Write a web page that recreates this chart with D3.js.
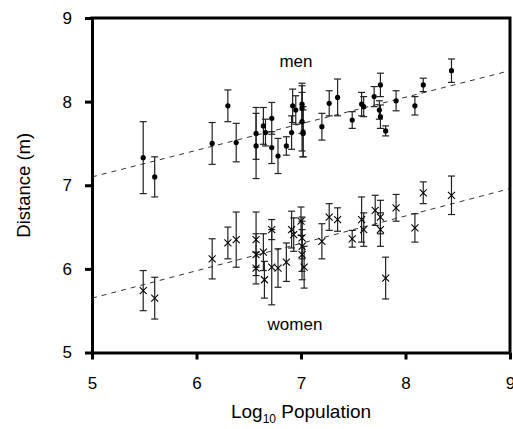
<!DOCTYPE html>
<html>
<head>
<meta charset="utf-8">
<script src="https://cdn.jsdelivr.net/npm/d3@7"></script>
<style>
  body { margin: 0; background: #fff; }
  text { font-family: "Liberation Sans", Arial, sans-serif; }
</style>
</head>
<body>
<svg></svg>
<script>
// men: log10 population, mean distance, error
let menPop  = [5.49, 5.60, 6.15, 6.30, 6.38, 6.57, 6.57, 6.64, 6.66, 6.72, 6.72, 6.78, 6.86, 6.91, 6.92, 6.95, 7.01, 7.01, 7.01, 7.02, 7.02, 7.20, 7.27, 7.35, 7.49, 7.58, 7.60, 7.70, 7.76, 7.75, 7.76, 7.81, 7.91, 8.09, 8.17, 8.44]
let menDist = [7.33, 7.10, 7.50, 7.95, 7.51, 7.62, 7.47, 7.71, 7.63, 7.80, 7.45, 7.35, 7.47, 7.63, 7.95, 7.90, 7.97, 7.92, 7.76, 7.64, 7.62, 7.70, 7.98, 8.05, 7.78, 7.97, 7.94, 8.06, 8.20, 7.90, 7.82, 7.65, 8.01, 7.95, 8.20, 8.37]
let menErr  = [0.43, 0.24, 0.25, 0.19, 0.23, 0.31, 0.39, 0.22, 0.16, 0.19, 0.19, 0.21, 0.11, 0.20, 0.20, 0.17, 0.22, 0.30, 0.35, 0.30, 0.28, 0.16, 0.15, 0.22, 0.10, 0.14, 0.12, 0.12, 0.14, 0.11, 0.14, 0.06, 0.12, 0.11, 0.08, 0.14]

// women
let womenPop  = [5.49, 5.60, 6.15, 6.30, 6.38, 6.57, 6.57, 6.57, 6.64, 6.65, 6.72, 6.72, 6.78, 6.86, 6.91, 6.93, 7.00, 7.01, 7.01, 7.01, 7.03, 7.20, 7.27, 7.35, 7.49, 7.58, 7.60, 7.71, 7.76, 7.76, 7.81, 7.91, 8.09, 8.17, 8.44]
let womenDist = [5.74, 5.65, 6.12, 6.31, 6.35, 6.35, 6.17, 6.01, 6.20, 5.87, 6.47, 6.02, 6.01, 6.08, 6.47, 6.41, 6.57, 6.37, 6.27, 6.17, 6.02, 6.33, 6.62, 6.59, 6.36, 6.59, 6.47, 6.70, 6.62, 6.47, 5.89, 6.73, 6.49, 6.91, 6.88]
let womenErr  = [0.24, 0.25, 0.24, 0.19, 0.33, 0.33, 0.25, 0.19, 0.22, 0.22, 0.12, 0.45, 0.23, 0.23, 0.22, 0.20, 0.17, 0.25, 0.30, 0.30, 0.25, 0.21, 0.16, 0.14, 0.10, 0.27, 0.20, 0.18, 0.20, 0.20, 0.25, 0.16, 0.17, 0.13, 0.23]

// fitted lines, endpoints
let fitX = [5, 9]
let menFit = [7.10, 8.37]
let womenFit = [5.65, 6.96]

let xTicks = [5, 6, 7, 8, 9]
let yTicks = [5, 6, 7, 8, 9]

let width = 513
let height = 429
let padLeft = 92
let padRight = 510
let padTop = 18
let padBottom = 352.5

let svg = d3.select('svg')
    .attr('width', width)
    .attr('height', height)

let xScale = d3.scaleLinear().domain([5, 9]).range([padLeft, padRight])
let yScale = d3.scaleLinear().domain([5, 9]).range([padBottom, padTop])

let men = menPop.map((p, i) => ({ x: p, y: menDist[i], e: menErr[i] }))
let women = womenPop.map((p, i) => ({ x: p, y: womenDist[i], e: womenErr[i] }))

// dashed fit lines
let line = d3.line()
    .x(d => xScale(d[0]))
    .y(d => yScale(d[1]))

svg.append('path')
    .attr('d', line(fitX.map((x, i) => [x, menFit[i]])))
    .attr('fill', 'none')
    .attr('stroke', '#333')
    .attr('stroke-width', 1)
    .attr('stroke-dasharray', '5,5')
svg.append('path')
    .attr('d', line(fitX.map((x, i) => [x, womenFit[i]])))
    .attr('fill', 'none')
    .attr('stroke', '#333')
    .attr('stroke-width', 1)
    .attr('stroke-dasharray', '5,5')

let drawErrors = (data) => {
    let g = svg.append('g')
        .attr('stroke', '#222')
        .attr('stroke-width', 1.2)
    g.selectAll('line.bar')
        .data(data)
        .enter()
        .append('line')
        .attr('x1', d => xScale(d.x))
        .attr('x2', d => xScale(d.x))
        .attr('y1', d => yScale(d.y + d.e))
        .attr('y2', d => yScale(d.y - d.e))
    g.selectAll('line.capTop')
        .data(data)
        .enter()
        .append('line')
        .attr('x1', d => xScale(d.x) - 3.5)
        .attr('x2', d => xScale(d.x) + 3.5)
        .attr('y1', d => yScale(d.y + d.e))
        .attr('y2', d => yScale(d.y + d.e))
    g.selectAll('line.capBot')
        .data(data)
        .enter()
        .append('line')
        .attr('x1', d => xScale(d.x) - 3.5)
        .attr('x2', d => xScale(d.x) + 3.5)
        .attr('y1', d => yScale(d.y - d.e))
        .attr('y2', d => yScale(d.y - d.e))
}
drawErrors(men)
drawErrors(women)

// men: filled dots
svg.selectAll('circle.men')
    .data(men)
    .enter()
    .append('circle')
    .attr('cx', d => xScale(d.x))
    .attr('cy', d => yScale(d.y))
    .attr('r', 2.6)
    .attr('fill', '#000')

// women: crosses
svg.append('g')
    .selectAll('path')
    .data(women)
    .enter()
    .append('path')
    .attr('d', d => {
        let cx = xScale(d.x), cy = yScale(d.y), s = 3.5
        return `M${cx - s},${cy - s}L${cx + s},${cy + s}M${cx - s},${cy + s}L${cx + s},${cy - s}`
    })
    .attr('stroke', '#000')
    .attr('stroke-width', 1.1)
    .attr('fill', 'none')

// axes
let xAxis = d3.axisBottom(xScale).tickValues(xTicks).tickFormat(d3.format('d'))
    .tickSize(7).tickSizeOuter(0).tickPadding(17)
let yAxis = d3.axisLeft(yScale).tickValues(yTicks).tickFormat(d3.format('d'))
    .tickSize(7).tickSizeOuter(0).tickPadding(13)

let gx = svg.append('g')
    .attr('transform', 'translate(0,' + padBottom + ')')
    .call(xAxis)
let gy = svg.append('g')
    .attr('transform', 'translate(' + padLeft + ',0)')
    .call(yAxis)

;[gx, gy].forEach(g => {
    g.select('.domain').attr('stroke', '#000').attr('stroke-width', 3)
    g.selectAll('.tick line').attr('stroke', '#000').attr('stroke-width', 3)
    g.selectAll('.tick text')
        .attr('fill', '#000')
        .style('font-size', '17px')
        .style('font-family', '"Liberation Sans", Arial, sans-serif')
})

// frame top and right
svg.append('path')
    .attr('d', `M${padLeft - 1.5},${padTop}H${padRight}V${padBottom}`)
    .attr('fill', 'none')
    .attr('stroke', '#000')
    .attr('stroke-width', 3)

// axis titles
let xt = svg.append('text')
    .attr('x', (padLeft + padRight) / 2)
    .attr('y', 418)
    .attr('text-anchor', 'middle')
    .style('font-size', '19px')
xt.append('tspan').text('Log')
xt.append('tspan').text('10').attr('dy', 5).style('font-size', '12px')
xt.append('tspan').text(' Population').attr('dy', -5)

svg.append('text')
    .attr('transform', 'translate(30,' + ((padTop + padBottom) / 2) + ') rotate(-90)')
    .attr('text-anchor', 'middle')
    .style('font-size', '18.5px')
    .text('Distance (m)')

// series labels
svg.append('text')
    .attr('x', 296)
    .attr('y', 67)
    .attr('text-anchor', 'middle')
    .style('font-size', '17px')
    .text('men')
svg.append('text')
    .attr('x', 295)
    .attr('y', 330)
    .attr('text-anchor', 'middle')
    .style('font-size', '17px')
    .text('women')
</script>
</body>
</html>
